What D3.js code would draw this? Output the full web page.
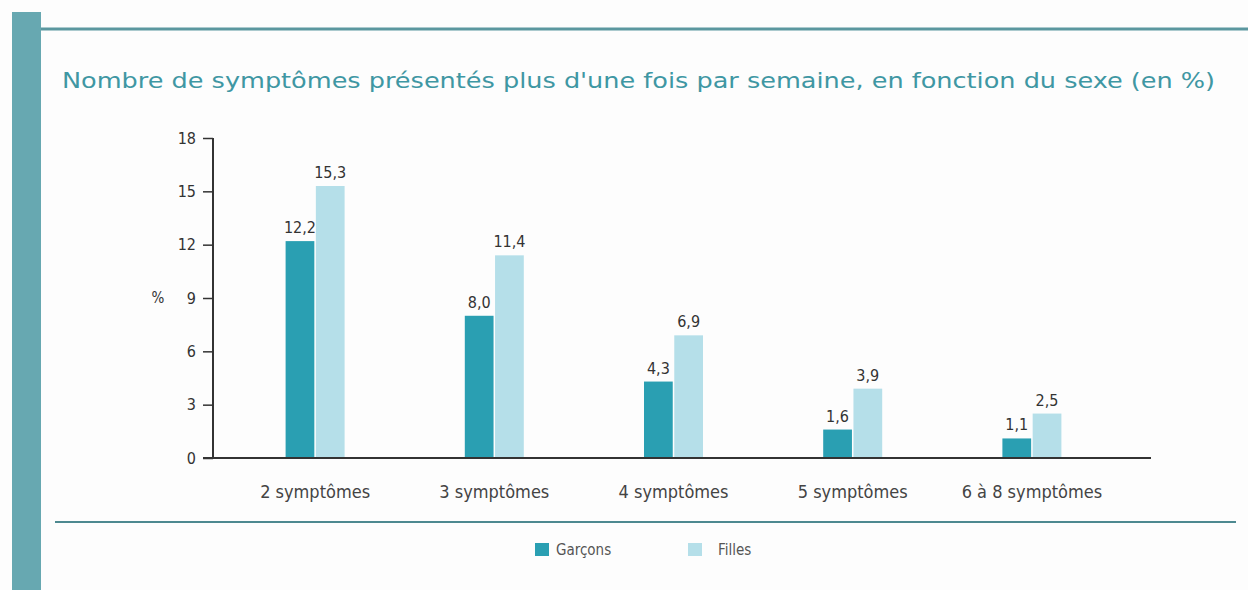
<!DOCTYPE html>
<html>
<head>
<meta charset="utf-8">
<script src="https://cdn.jsdelivr.net/npm/d3@7"></script>
<style>
  body { margin: 0; background: #fdfdfd; }
  svg text { font-family: "DejaVu Sans Condensed", "DejaVu Sans", sans-serif; font-stretch: condensed; }
</style>
</head>
<body>
<div id="chart"></div>
<script>
// Chart values
const categories = ["2 symptômes", "3 symptômes", "4 symptômes", "5 symptômes", "6 à 8 symptômes"];
const series = ["Garçons", "Filles"];
const garcons = [12.2, 8.0, 4.3, 1.6, 1.1];
const filles = [15.3, 11.4, 6.9, 3.9, 2.5];
const yTicks = [0, 3, 6, 9, 12, 15, 18];

const colors = { "Garçons": "#2a9fb2", "Filles": "#b5dfe9" };

const W = 1248, H = 590;
const svg = d3.select("#chart").append("svg")
    .attr("width", W)
    .attr("height", H);

svg.append("rect").attr("width", W).attr("height", H).attr("fill", "#fdfdfd");

// frame decorations
svg.append("rect")
    .attr("x", 12).attr("y", 12)
    .attr("width", 29).attr("height", H - 12)
    .attr("fill", "#67a8b1");
svg.append("line")
    .attr("x1", 41).attr("x2", W)
    .attr("y1", 29).attr("y2", 29)
    .attr("stroke", "#5b979f").attr("stroke-width", 3);
svg.append("line")
    .attr("x1", 55).attr("x2", 1236)
    .attr("y1", 522).attr("y2", 522)
    .attr("stroke", "#4d8990").attr("stroke-width", 2);

// title
svg.append("text")
    .attr("x", 62).attr("y", 88)
    .attr("fill", "#3f97a3")
    .attr("font-size", 22)
    .attr("textLength", 1153)
    .attr("lengthAdjust", "spacingAndGlyphs")
    .text("Nombre de symptômes présentés plus d'une fois par semaine, en fonction du sexe (en %)");

// scales
const x = d3.scaleBand()
    .domain(categories)
    .range([225.5, 1121.5]);

const groupW = 59;
const xs = d3.scaleBand()
    .domain(series)
    .range([0, groupW])
    .paddingInner(0.05);

const y = d3.scaleLinear()
    .domain([0, 18])
    .range([458, 138]);

const rows = categories.map((c, i) => ({ cat: c, values: [
    { key: "Garçons", value: garcons[i] },
    { key: "Filles", value: filles[i] }
] }));

// y axis
const yAxis = svg.append("g")
    .attr("transform", "translate(213,0)")
    .call(d3.axisLeft(y).tickValues(yTicks).tickSize(10).tickPadding(7));
yAxis.select(".domain").attr("stroke", "#333").attr("stroke-width", 2)
    .attr("d", `M0,${y(18)}V${y(0)}`);
yAxis.selectAll(".tick line").attr("stroke", "#333").attr("stroke-width", 1.5);
yAxis.selectAll(".tick text").attr("font-size", 16).attr("fill", "#333");

svg.append("text")
    .attr("x", 158).attr("y", y(9))
    .attr("dy", "0.35em")
    .attr("text-anchor", "middle")
    .attr("font-size", 15)
    .attr("fill", "#333")
    .text("%");

// x axis labels
const xAxis = svg.append("g")
    .attr("transform", `translate(0,${y(0)})`)
    .call(d3.axisBottom(x).tickSize(0).tickPadding(27));
xAxis.select(".domain").remove();
xAxis.selectAll(".tick text").attr("font-size", 18).attr("fill", "#444");

// bars
const groups = svg.selectAll(".grp")
    .data(rows)
    .enter().append("g")
    .attr("class", "grp")
    .attr("transform", d => `translate(${x(d.cat) + (x.bandwidth() - groupW) / 2},0)`);

groups.selectAll("rect")
    .data(d => d.values)
    .enter().append("rect")
    .attr("x", d => xs(d.key))
    .attr("y", d => y(d.value))
    .attr("width", xs.bandwidth())
    .attr("height", d => y(0) - y(d.value))
    .attr("fill", d => colors[d.key]);

groups.selectAll(".val")
    .data(d => d.values)
    .enter().append("text")
    .attr("class", "val")
    .attr("x", d => xs(d.key) + xs.bandwidth() / 2)
    .attr("y", d => y(d.value) - 8)
    .attr("text-anchor", "middle")
    .attr("font-size", 16)
    .attr("fill", "#333")
    .text(d => d.value.toFixed(1).replace(".", ","));

// baseline
svg.append("line")
    .attr("x1", 203).attr("x2", 1151)
    .attr("y1", y(0)).attr("y2", y(0))
    .attr("stroke", "#333").attr("stroke-width", 2);

// legend
const legendX = [535, 688];
const legend = svg.selectAll(".leg")
    .data(series)
    .enter().append("g")
    .attr("class", "leg")
    .attr("transform", (d, i) => `translate(${legendX[i]},543)`);
legend.append("rect")
    .attr("width", 14).attr("height", 13)
    .attr("fill", d => colors[d]);
legend.append("text")
    .attr("x", d => d === "Garçons" ? 21 : 30)
    .attr("y", 7)
    .attr("dy", "0.35em")
    .attr("font-size", 15)
    .attr("fill", "#555")
    .text(d => d);
</script>
</body>
</html>
